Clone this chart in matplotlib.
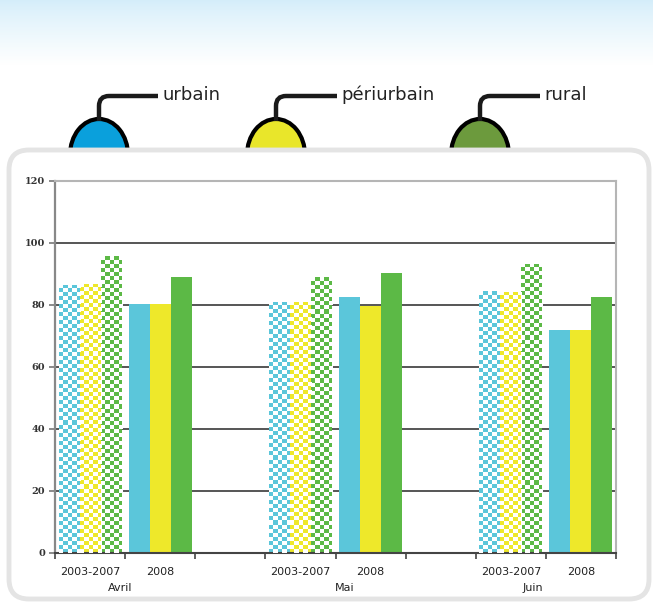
import numpy as np
import matplotlib.pyplot as plt
from matplotlib.patches import FancyBboxPatch, Ellipse, PathPatch
from matplotlib.path import Path
from matplotlib.transforms import blended_transform_factory

# === Données ===
mois = ["Avril", "Mai", "Juin"]
periodes = ["2003-2007", "2008"]
series = ["urbain", "périurbain", "rural"]

urbain_0307 = [86.5, 81.0, 84.5]
peri_0307 = [86.8, 81.0, 84.3]
rural_0307 = [95.8, 89.0, 93.3]

urbain_2008 = [80.3, 82.7, 71.9]
peri_2008 = [80.2, 79.8, 71.9]
rural_2008 = [89.0, 90.3, 82.7]

yticks = [0, 20, 40, 60, 80, 100, 120]

# couleurs
couleurs_barres = ["#5BC6DA", "#EEE82A", "#5CB946"]
couleurs_bulles = ["#0AA0DC", "#E9E62A", "#6C9A3D"]

W, H = 653, 608
fig = plt.figure(figsize=(W / 100, H / 100), dpi=100)

# === Fond (dégradé bleu, panneau arrondi, légende en "bulles") ===
bg = fig.add_axes([0, 0, 1, 1], zorder=0)
bg.set_xlim(0, W)
bg.set_ylim(H, 0)
bg.axis("off")

grad = np.linspace(0, 1, 100)[:, None] ** 0.8
top = np.array([0.83, 0.93, 0.98])
img = top[None, None, :] * (1 - grad[:, :, None]) + np.ones(3)[None, None, :] * grad[:, :, None]
img = np.repeat(img, 2, axis=1)
bg.imshow(img, extent=(0, W, 65, 0), aspect="auto", zorder=0)

x_bulles = [99, 276, 480]
fin_trait = [158, 337, 540]
for xb, xf, nom, c in zip(x_bulles, fin_trait, series, couleurs_bulles):
    bg.add_patch(Ellipse((xb, 155), 58, 72, facecolor=c, edgecolor="black", lw=3, zorder=1))
    chemin = Path([(xb, 121), (xb, 106), (xb, 96), (xb + 10, 96), (xf, 96)],
                  [Path.MOVETO, Path.LINETO, Path.CURVE3, Path.CURVE3, Path.LINETO])
    bg.add_patch(PathPatch(chemin, facecolor="none", edgecolor="#1a1a1a", lw=3.2,
                           capstyle="butt", zorder=1))
    bg.text(xf + 4, 95, nom, fontsize=13, va="center", ha="left", color="#222222")

panneau = FancyBboxPatch((9, 150), 640, 449, boxstyle="round,pad=0,rounding_size=20",
                         facecolor="white", edgecolor="#e4e4e4", lw=3.5, zorder=2)
bg.add_patch(panneau)

# === Graphique ===
ax = fig.add_axes([55 / W, 1 - 553 / H, (616 - 55) / W, (553 - 181) / H], zorder=3)

largeur = 0.3
decalages = [-largeur, 0, largeur]
pos_0307 = np.array([0, 3, 6])
pos_2008 = pos_0307 + 1

for k, (v0307, v2008) in enumerate(zip([urbain_0307, peri_0307, rural_0307],
                                       [urbain_2008, peri_2008, rural_2008])):
    barres = ax.bar(pos_0307 + decalages[k], v0307, largeur, color=couleurs_barres[k], zorder=2)
    ax.bar(pos_2008 + decalages[k], v2008, largeur, color=couleurs_barres[k], zorder=2)
    # motif en damier pour 2003-2007
    for b in barres:
        x0, w, h = b.get_x(), b.get_width(), b.get_height()
        nx = 5
        ny = int(round(h / 1.3))
        ii, jj = np.indices((ny, nx))
        damier = np.zeros((ny, nx, 4))
        damier[..., :3] = 1.0
        damier[..., 3] = ((ii + jj) % 2 == 0).astype(float)
        im = ax.imshow(damier, extent=(x0, x0 + w, 0, h), aspect="auto",
                       interpolation="nearest", zorder=3)
        im.set_clip_path(b)

ax.set_xlim(-0.5, 7.5)
ax.set_ylim(0, 120)
ax.set_yticks(yticks)
ax.set_yticklabels([str(v) for v in yticks], fontsize=7, family="DejaVu Serif",
                   fontweight="bold", color="#333333")
ax.yaxis.grid(True, color="#555555", lw=1.4)
ax.set_axisbelow(True)

ax.set_xticks(np.arange(-0.5, 8, 1))
ax.set_xticklabels([])
ax.set_xticks(list(pos_0307) + list(pos_2008),
              [periodes[0]] * 3 + [periodes[1]] * 3, minor=True)
ax.tick_params(axis="x", which="minor", length=0, labelsize=8, pad=10, labelcolor="#222222")
ax.tick_params(axis="x", which="major", direction="out", length=4, width=1.2, color="#444444")
ax.tick_params(axis="y", direction="out", length=4, width=1.2, color="#777777", pad=3)

trans = blended_transform_factory(ax.transData, ax.transAxes)
for xm, m in zip([0.43, 3.63, 6.31], mois):
    ax.text(xm, -0.093, m, transform=trans, ha="center", va="center",
            fontsize=8, color="#222222")

ax.spines["left"].set_color("#888888")
ax.spines["left"].set_linewidth(1.6)
ax.spines["bottom"].set_color("#444444")
ax.spines["bottom"].set_linewidth(1.5)
for s in ["top", "right"]:
    ax.spines[s].set_color("#b5b5b5")
    ax.spines[s].set_linewidth(1.5)

fig.savefig("out.png", dpi=100)
